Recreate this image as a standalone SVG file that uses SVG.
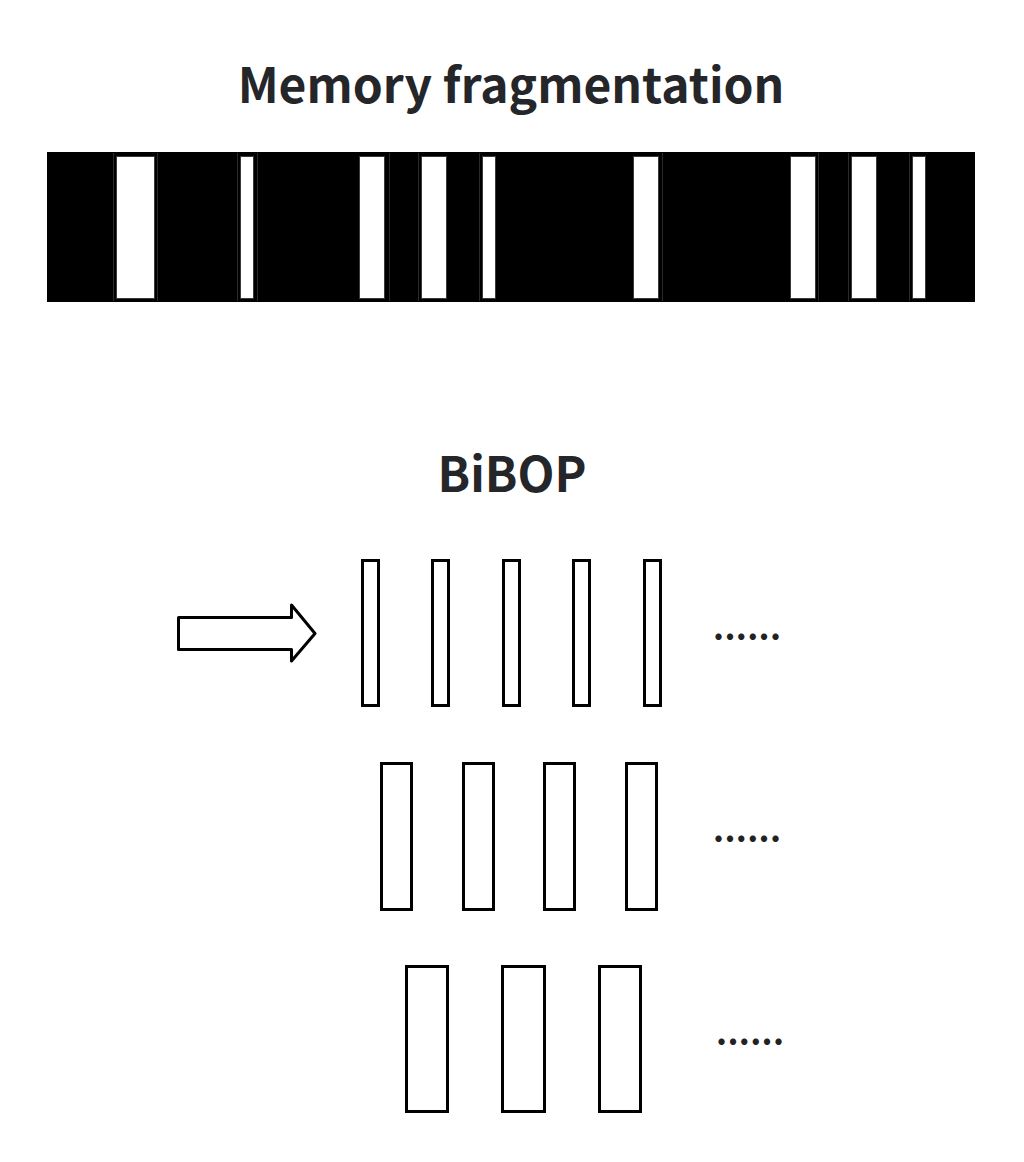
<svg xmlns="http://www.w3.org/2000/svg" width="1024" height="1162" viewBox="0 0 1024 1162">
<style>
.title{font-family:"Noto Sans CJK SC","Noto Sans",sans-serif;font-weight:700;font-size:48px;fill:#24262a;text-anchor:middle}
.slot{fill:#fff;stroke:#3a3a3a;stroke-width:1}
.sep{stroke:#2a2a2a;stroke-width:1}
.blk{fill:#fff;stroke:#000;stroke-width:3}
.dots{font-family:"Noto Sans CJK SC","Noto Sans",sans-serif;font-weight:700;font-size:34px;fill:#222}
</style>
<rect width="1024" height="1162" fill="#fff"/>
<g id="title-memory"><text class="title" x="511" y="103">Memory fragmentation</text></g>
<g id="memory-bar">
<rect x="47" y="152" width="928" height="150" fill="#000"/>
<g>
<line class="sep" x1="113.5" y1="153" x2="113.5" y2="301"/>
<line class="sep" x1="157.5" y1="153" x2="157.5" y2="301"/>
<line class="sep" x1="237.5" y1="153" x2="237.5" y2="301"/>
<line class="sep" x1="257.5" y1="153" x2="257.5" y2="301"/>
<line class="sep" x1="389.5" y1="153" x2="389.5" y2="301"/>
<line class="sep" x1="418.5" y1="153" x2="418.5" y2="301"/>
<line class="sep" x1="479.5" y1="153" x2="479.5" y2="301"/>
<line class="sep" x1="662.5" y1="153" x2="662.5" y2="301"/>
<line class="sep" x1="818.5" y1="153" x2="818.5" y2="301"/>
<line class="sep" x1="848.5" y1="153" x2="848.5" y2="301"/>
<line class="sep" x1="909.5" y1="153" x2="909.5" y2="301"/>
</g>
<rect class="slot" x="116.5" y="156.5" width="38" height="142"/>
<rect class="slot" x="240.5" y="156.5" width="13" height="142"/>
<rect class="slot" x="359.5" y="156.5" width="25" height="142"/>
<rect class="slot" x="421.5" y="156.5" width="25" height="142"/>
<rect class="slot" x="482.5" y="156.5" width="13" height="142"/>
<rect class="slot" x="633.5" y="156.5" width="25" height="142"/>
<rect class="slot" x="790.5" y="156.5" width="25" height="142"/>
<rect class="slot" x="851.5" y="156.5" width="25" height="142"/>
<rect class="slot" x="912.5" y="156.5" width="13" height="142"/>
</g>
<g id="title-bibop"><text class="title" x="512" y="492">BiBOP</text></g>
<g id="connectors">
<path d="M178.5,617.5 H291.5 V605 L315,633.5 L291.5,661 V649.5 H178.5 Z" fill="#fff" stroke="#000" stroke-width="3" stroke-linejoin="round"/>
</g>
<g id="row1">
<rect class="blk" x="362.5" y="560.5" width="16" height="145"/>
<rect class="blk" x="432.5" y="560.5" width="16" height="145"/>
<rect class="blk" x="503.5" y="560.5" width="16" height="145"/>
<rect class="blk" x="573.5" y="560.5" width="16" height="145"/>
<rect class="blk" x="644.5" y="560.5" width="16" height="145"/>
<text class="dots" x="713" y="640" textLength="68" lengthAdjust="spacing">......</text>
</g>
<g id="row2">
<rect class="blk" x="381.5" y="763.5" width="30" height="146"/>
<rect class="blk" x="463.5" y="763.5" width="30" height="146"/>
<rect class="blk" x="544.5" y="763.5" width="30" height="146"/>
<rect class="blk" x="626.5" y="763.5" width="30" height="146"/>
<text class="dots" x="713" y="842" textLength="68" lengthAdjust="spacing">......</text>
</g>
<g id="row3">
<rect class="blk" x="406.5" y="966.5" width="41" height="145"/>
<rect class="blk" x="502.5" y="966.5" width="42" height="145"/>
<rect class="blk" x="599.5" y="966.5" width="41" height="145"/>
<text class="dots" x="716" y="1045" textLength="68" lengthAdjust="spacing">......</text>
</g>
</svg>
